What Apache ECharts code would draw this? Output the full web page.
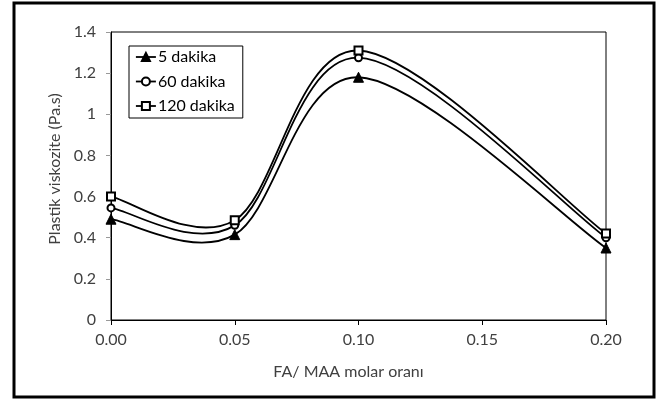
<!DOCTYPE html>
<html><head><meta charset="utf-8">
<script src="https://cdn.jsdelivr.net/npm/echarts@6/dist/echarts.min.js"></script>
<style>html,body{margin:0;padding:0;background:#fff}#c{width:660px;height:400px}</style>
</head><body><div id="c"></div>
<script>
// ---- data ----
const xValues = [0, 0.05, 0.10, 0.20];
const seriesNames = ['5 dakika', '60 dakika', '120 dakika'];
const values5 = [0.49, 0.415, 1.18, 0.35];
const values60 = [0.545, 0.46, 1.275, 0.40];
const values120 = [0.60, 0.485, 1.31, 0.42];
const xAxisTitle = 'FA/ MAA molar oranı';
const yAxisTitle = 'Plastik viskozite (Pa.s)';

const allValues = [values5, values60, values120];
const symbols = ['triangle', 'emptyCircle', 'emptyRect'];
const symbolSizes = [10, 7, 8];
const FONT = 'Lato';

function pairs(vals) { return xValues.map((x, i) => [x, vals[i]]); }

// Excel-like smoothed line (Catmull-Rom Bezier), computed through the axes via api.coord
function curveRenderer(vals) {
  return function (params, api) {
    if (params.dataIndex !== 0) return null;
    const pts = xValues.map((x, i) => api.coord([x, vals[i]]));
    const children = [];
    const n = pts.length;
    for (let i = 0; i < n - 1; i++) {
      const p0 = pts[Math.max(i - 1, 0)], p1 = pts[i], p2 = pts[i + 1], p3 = pts[Math.min(i + 2, n - 1)];
      children.push({
        type: 'bezierCurve',
        shape: {
          x1: p1[0], y1: p1[1], x2: p2[0], y2: p2[1],
          cpx1: p1[0] + (p2[0] - p0[0]) / 6, cpy1: p1[1] + (p2[1] - p0[1]) / 6,
          cpx2: p2[0] - (p3[0] - p1[0]) / 6, cpy2: p2[1] - (p3[1] - p1[1]) / 6
        },
        style: { stroke: '#000', lineWidth: 1.8, fill: null }
      });
    }
    return { type: 'group', children: children };
  };
}

const series = [];
allValues.forEach((vals, k) => {
  series.push({
    type: 'custom',
    name: 'curve' + k,
    data: pairs(vals),
    encode: { x: 0, y: 1 },
    renderItem: curveRenderer(vals),
    z: 2,
    silent: true
  });
});
allValues.forEach((vals, k) => {
  series.push({
    type: 'line',
    name: seriesNames[k],
    data: pairs(vals),
    symbol: symbols[k],
    symbolSize: symbolSizes[k],
    showSymbol: true,
    lineStyle: { opacity: 0, width: 1.8, color: '#000' },
    itemStyle: { color: '#000', borderColor: k === 1 ? '#444' : '#000', borderWidth: 1 },
    z: 3,
    silent: true,
    emphasis: { disabled: true }
  });
});

const chart = echarts.init(document.getElementById('c'), null, { renderer: 'canvas' });
chart.setOption({
  animation: false,
  backgroundColor: '#fff',
  textStyle: { fontFamily: FONT },
  grid: { left: 111, right: 54, top: 32, bottom: 80, show: true, borderColor: '#000', borderWidth: 1, backgroundColor: 'transparent' },
  graphic: [{
    type: 'rect', shape: { x: 14, y: 3, width: 640, height: 394 },
    style: { fill: null, stroke: '#000', lineWidth: 3 }, silent: true, z: 10
  }],
  legend: {
    data: seriesNames.map(n => ({ name: n, lineStyle: { opacity: 1, width: 1.8, color: '#000' } })),
    orient: 'vertical',
    left: 129, top: 46,
    padding: [3, 8, 4, 6],
    borderColor: '#000', borderWidth: 1,
    itemWidth: 20, itemHeight: 10, itemGap: 8.5,
    selectedMode: false,
    textStyle: { fontFamily: FONT, fontSize: 16, color: '#000', lineHeight: 16, padding: [0, 0, 0, -3] }
  },
  xAxis: {
    type: 'value', min: 0, max: 0.2, interval: 0.05,
    name: xAxisTitle, nameLocation: 'middle', nameGap: 44,
    nameTextStyle: { fontFamily: FONT, fontSize: 16, color: '#404040', padding: [0, 20, 0, 0] },
    axisLine: { show: true, onZero: false, lineStyle: { color: '#000', width: 1 } },
    axisTick: { show: true, inside: false, length: 5, lineStyle: { color: '#000' } },
    axisLabel: { fontFamily: FONT, fontSize: 16, color: '#404040', margin: 12, formatter: v => v.toFixed(2) },
    splitLine: { show: false }
  },
  yAxis: {
    type: 'value', min: 0, max: 1.4, interval: 0.2,
    name: yAxisTitle, nameLocation: 'middle', nameGap: 46, nameRotate: 90,
    nameTextStyle: { fontFamily: FONT, fontSize: 16, color: '#404040', padding: [0, 0, 0, 14] },
    axisLine: { show: true, lineStyle: { color: '#000', width: 1 } },
    axisTick: { show: true, inside: false, length: 5, lineStyle: { color: '#999' } },
    axisLabel: { fontFamily: FONT, fontSize: 16, color: '#404040', margin: 15 },
    splitLine: { show: false }
  },
  series: series
});
</script>
</body></html>
